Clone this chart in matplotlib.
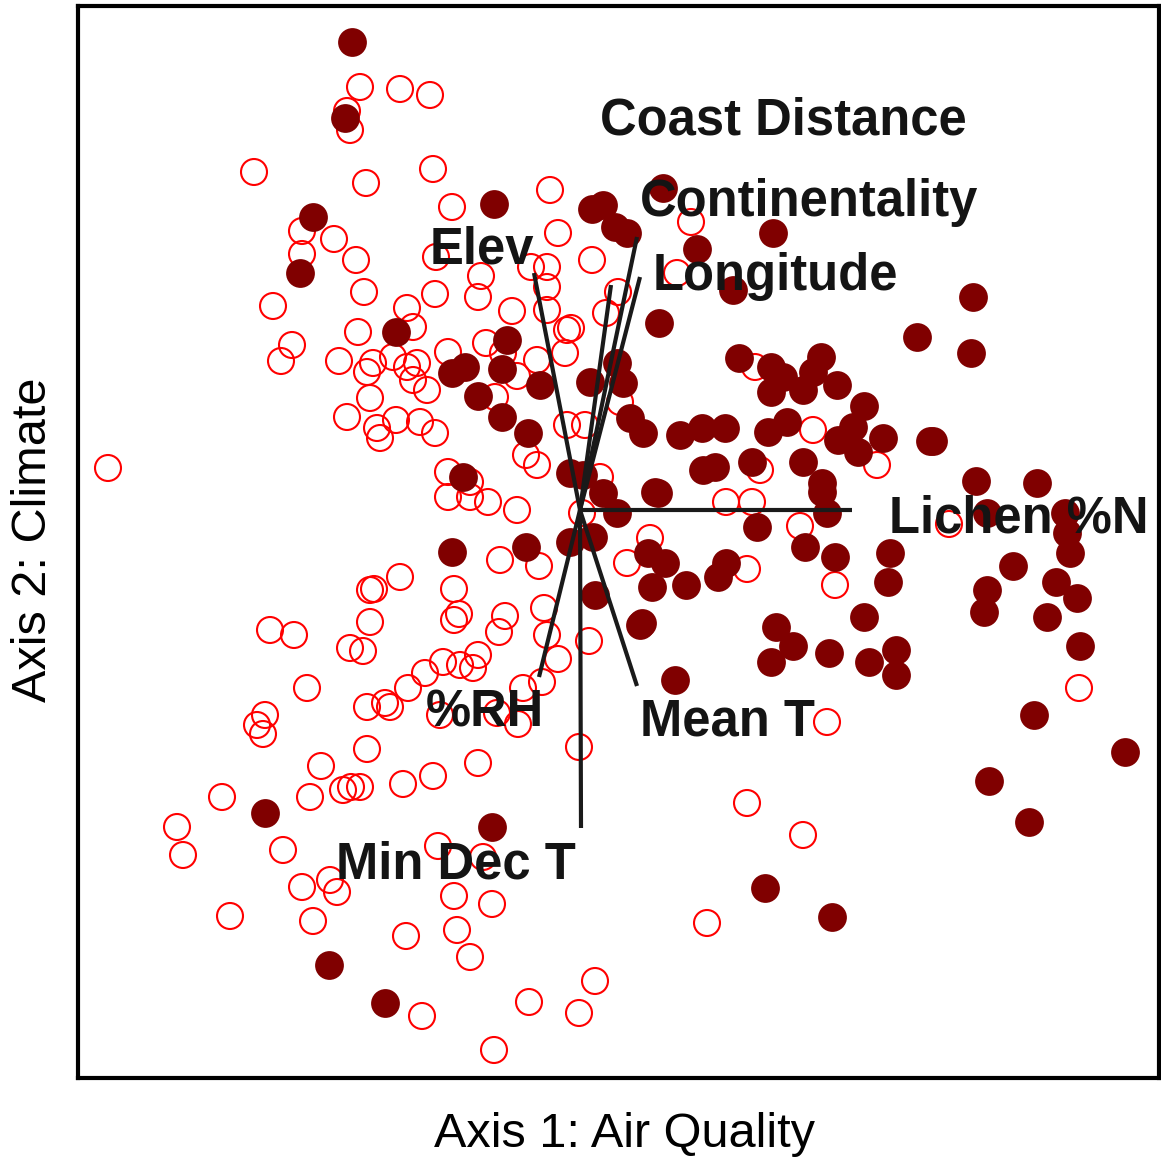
import matplotlib
matplotlib.use("Agg")
import matplotlib.pyplot as plt

# ordination scores (plot units, y grows downward)
open_x = [360, 400, 430, 347, 350, 254, 366, 433, 452, 550, 558, 302, 334, 302, 356, 436, 531, 547, 592, 481,
          364, 273, 435, 478, 547, 618, 512, 547, 606, 407, 413, 358, 292, 281, 339, 567, 571, 486, 565, 448,
          407, 417, 373, 393, 413, 427, 367, 503, 537, 517, 370, 495, 347, 396, 420, 435, 377, 380, 567, 585,
          620, 526, 537, 108,
          448, 470, 448, 470, 488, 517, 600, 582, 500, 539, 650, 627, 400, 374, 454, 459, 454, 544, 505, 499,
          547, 589, 370, 558, 443, 425, 460, 478, 473, 408, 385, 542, 523, 367, 390, 440, 497, 518,
          370, 350, 363, 270, 294, 307, 265, 257, 263, 367, 321, 310, 343, 351, 222, 177, 183, 283,
          579, 478, 433, 403, 360, 438, 483, 454, 492, 406, 457, 470, 422, 529, 595, 579, 494,
          302, 313, 230, 330, 337,
          691, 677, 755, 813, 760, 877, 726, 752, 800, 747, 835, 949, 1079, 827, 747, 803, 707]
open_y = [87, 89, 95, 111, 130, 172, 183, 169, 207, 190, 233, 231, 239, 254, 260, 257, 267, 267, 260, 276,
          292, 306, 294, 297, 287, 292, 311, 310, 313, 308, 327, 332, 345, 361, 361, 330, 328, 343, 353, 352,
          367, 363, 363, 357, 380, 390, 372, 353, 360, 376, 398, 397, 417, 420, 422, 433, 428, 438, 425, 425,
          402, 455, 465, 468,
          472, 482, 497, 497, 502, 510, 477, 513, 560, 566, 538, 563, 577, 589, 589, 614, 620, 608, 616, 632,
          635, 641, 622, 659, 662, 673, 665, 655, 668, 688, 703, 682, 688, 707, 707, 715, 713, 724,
          590, 648, 651, 630, 635, 688, 715, 725, 734, 749, 766, 797, 790, 787, 797, 827, 855, 850,
          747, 763, 776, 784, 787, 846, 857, 896, 904, 936, 930, 957, 1016, 1002, 981, 1013, 1050,
          887, 921, 916, 880, 892,
          222, 273, 367, 430, 470, 465, 502, 502, 526, 569, 585, 524, 688, 722, 803, 835, 923]

filled_x = [352, 345, 313, 300, 494, 592, 603, 615, 627, 663, 697, 773, 733, 659, 396, 507, 452, 465, 502, 540,
            478, 502, 528, 590, 617, 623, 630, 643, 463, 570, 583, 603, 617, 655, 452, 526, 570, 593, 595, 640,
            648, 665, 652, 686, 718, 726,
            739, 771, 783, 821, 813, 837, 771, 803, 864, 853, 787, 768, 725, 702, 680, 838, 883, 930, 858,
            703, 715, 752, 803, 658, 822, 822, 827, 757, 805, 835, 890, 888,
            642, 776, 793, 771, 829, 864, 869, 896, 896, 675,
            973, 917, 971, 933, 976, 1037, 987, 1065, 1067, 1070, 1013, 987, 984, 1056, 1077, 1047, 1080, 1034,
            1125, 989, 1029,
            265, 492, 329, 385, 765, 832]
filled_y = [42, 118, 217, 273, 204, 209, 205, 227, 233, 188, 249, 233, 290, 323, 332, 340, 373, 367, 369, 385,
            396, 417, 433, 382, 363, 383, 418, 433, 477, 473, 475, 493, 513, 492, 552, 547, 542, 537, 595, 625,
            553, 563, 587, 585, 577, 563,
            358, 367, 377, 357, 372, 385, 392, 390, 406, 427, 422, 432, 428, 428, 435, 440, 438, 441, 452,
            470, 467, 462, 462, 493, 483, 492, 513, 527, 547, 557, 553, 582,
            623, 627, 646, 662, 653, 617, 662, 650, 675, 680,
            297, 337, 353, 441, 481, 483, 513, 513, 533, 553, 566, 590, 612, 582, 598, 617, 646, 715,
            752, 781, 822,
            813, 827, 965, 1003, 888, 917]

# environmental vectors (origin and tips) and their labels
origin = (580, 510)
vec_names = ["Lichen %N", "Elev", "Coast Distance", "Continentality", "Longitude", "%RH", "Mean T", "Min Dec T"]
vec_x = [852, 534, 611, 637, 640, 539, 637, 581]
vec_y = [510, 273, 285, 237, 277, 677, 686, 828]
lab_x = [889, 430, 600, 640, 653, 426, 640, 336]
lab_y = [532, 263, 134, 216, 290, 726, 735, 878]

fig = plt.figure(figsize=(11.61, 11.57), dpi=100)
ax = fig.add_axes([78 / 1161, (1157 - 1078) / 1157, (1159 - 78) / 1161, (1078 - 6) / 1157])

ax.scatter(open_x, open_y, s=350, facecolors="none", edgecolors="#ff0000", linewidths=1.5, zorder=2)
ax.scatter(filled_x, filled_y, s=430, color="#800000", linewidths=0, zorder=3)

for name, vx, vy, lx, ly in zip(vec_names, vec_x, vec_y, lab_x, lab_y):
    ax.plot([origin[0], vx], [origin[1], vy], color="#1a1a1a", lw=3, solid_capstyle="butt", zorder=4)
    ax.text(lx, ly, name, fontsize=36.5, fontweight="bold", family="Liberation Sans",
            color="#141414", ha="left", va="baseline", zorder=5)

ax.set_xlim(78, 1159)
ax.set_ylim(1078, 6)
ax.set_xticks([])
ax.set_yticks([])
for sp in ax.spines.values():
    sp.set_linewidth(3)

fig.text(624 / 1161, 1 - 1147 / 1157, "Axis 1: Air Quality", fontsize=35, family="Liberation Sans",
         ha="center", va="baseline")
fig.text(34 / 1161, 1 - 540 / 1157, "Axis 2: Climate", fontsize=35, family="Liberation Sans",
         rotation=90, ha="center", va="center")

fig.savefig("out.png", dpi=100)
